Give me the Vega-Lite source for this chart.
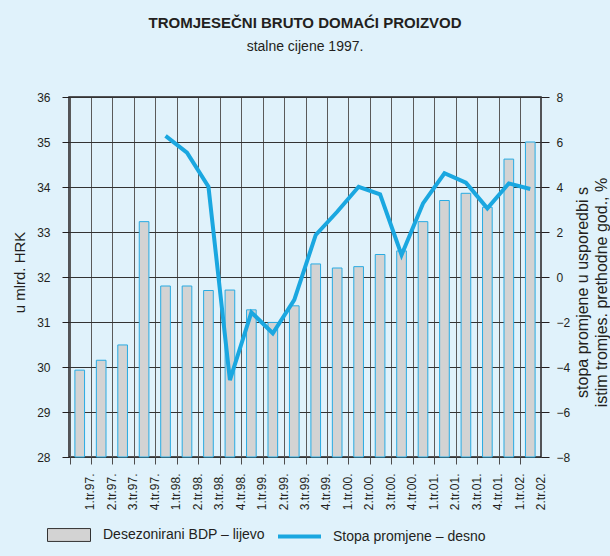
{
  "$schema": "https://vega.github.io/schema/vega-lite/v6.json",
  "width": 472,
  "height": 360,
  "autosize": {"type": "none"},
  "padding": {"left": 69, "top": 97, "right": 69, "bottom": 99},
  "background": "#e0f2fb",
  "title": {
    "text": "TROMJESEČNI BRUTO DOMAĆI PROIZVOD",
    "subtitle": "stalne cijene 1997.",
    "font": "Liberation Sans, Arial",
    "fontSize": 15,
    "fontWeight": "bold",
    "color": "#231f20",
    "subtitleFont": "Liberation Sans, Arial",
    "subtitleFontSize": 14,
    "subtitleColor": "#231f20",
    "subtitlePadding": 9,
    "offset": 37,
    "anchor": "middle"
  },
  "config": {
    "view": {"stroke": "#231f20", "strokeWidth": 1.5, "fill": "#e0f2fb"},
    "font": "Liberation Sans, Arial",
    "axis": {"labelColor": "#231f20", "titleColor": "#231f20", "labelFont": "Liberation Sans", "titleFont": "Liberation Sans", "titleFontWeight": "normal"}
  },
  "data": {
    "values": [
      {"q": "1.tr.97.", "bdp": 29.93, "stopa": null},
      {"q": "2.tr.97.", "bdp": 30.15, "stopa": null},
      {"q": "3.tr.97.", "bdp": 30.49, "stopa": null},
      {"q": "4.tr.97.", "bdp": 33.23, "stopa": null},
      {"q": "1.tr.98.", "bdp": 31.8, "stopa": 6.27},
      {"q": "2.tr.98.", "bdp": 31.8, "stopa": 5.53},
      {"q": "3.tr.98.", "bdp": 31.7, "stopa": 4.01},
      {"q": "4.tr.98.", "bdp": 31.71, "stopa": -4.58},
      {"q": "1.tr.99.", "bdp": 31.27, "stopa": -1.57},
      {"q": "2.tr.99.", "bdp": 30.99, "stopa": -2.5},
      {"q": "3.tr.99.", "bdp": 31.36, "stopa": -1.02},
      {"q": "4.tr.99.", "bdp": 32.29, "stopa": 1.87},
      {"q": "1.tr.00.", "bdp": 32.2, "stopa": 2.9},
      {"q": "2.tr.00.", "bdp": 32.23, "stopa": 4.01},
      {"q": "3.tr.00.", "bdp": 32.5, "stopa": 3.67},
      {"q": "4.tr.00.", "bdp": 32.58, "stopa": 0.98},
      {"q": "1.tr.01.", "bdp": 33.23, "stopa": 3.27},
      {"q": "2.tr.01.", "bdp": 33.7, "stopa": 4.61},
      {"q": "3.tr.01.", "bdp": 33.86, "stopa": 4.19},
      {"q": "4.tr.01.", "bdp": 33.55, "stopa": 3.05},
      {"q": "1.tr.02.", "bdp": 34.62, "stopa": 4.16},
      {"q": "2.tr.02.", "bdp": 35.0, "stopa": 3.91}
    ]
  },
  "layer": [
    {
      "mark": {"type": "bar", "stroke": "#29abe2", "strokeWidth": 1, "width": {"band": 0.5}},
      "encoding": {
        "x": {
          "field": "q", "type": "ordinal", "sort": null,
          "axis": {"title": null, "labelAngle": -90, "labelFontSize": 12, "bandPosition": 0, "labelOffset": 10.7,
                   "ticks": true, "tickSize": 7, "tickColor": "#4d4d4d", "labelPadding": 9, "domain": false,
                   "grid": true, "gridColor": "#5a5a5a", "gridWidth": 1, "gridOpacity": 1}
        },
        "y": {
          "field": "bdp", "type": "quantitative",
          "scale": {"domain": [28, 36], "zero": false, "nice": false},
          "axis": {
            "orient": "left", "title": "u mlrd. HRK", "titleFontSize": 15, "values": [28, 29, 30, 31, 32, 33, 34, 35, 36],
            "grid": true, "gridColor": "#333333", "gridWidth": 1, "gridOpacity": 1,
            "titleX": -50, "titleY": 175, "titleAlign": "center", "titleBaseline": "middle", "titleAngle": 270,
            "tickSize": 7, "tickColor": "#231f20", "domain": false, "labelFontSize": 12, "labelPadding": 12
          }
        },
        "y2": {"datum": 28},
        "fill": {
          "datum": "Desezonirani BDP – lijevo",
          "scale": {"range": ["#d3d3d3"]},
          "legend": {
            "title": null, "orient": "none", "legendX": -22, "legendY": 416,
            "symbolType": "M-1,-0.3H1V0.3H-1Z", "symbolSize": 1849, "symbolStrokeColor": "#333333", "symbolStrokeWidth": 1,
            "labelFontSize": 14, "labelColor": "#231f20", "labelOffset": 12, "labelLimit": 400
          }
        }
      }
    },
    {
      "transform": [{"filter": "datum.stopa != null"}],
      "mark": {"type": "line", "strokeWidth": 4, "strokeJoin": "miter"},
      "encoding": {
        "x": {
          "field": "q", "type": "ordinal", "sort": null,
          "axis": {"title": null, "labelAngle": -90, "labelFontSize": 12, "bandPosition": 0, "labelOffset": 10.7,
                   "ticks": true, "tickSize": 7, "tickColor": "#4d4d4d", "labelPadding": 9, "domain": false,
                   "grid": true, "gridColor": "#5a5a5a", "gridWidth": 1, "gridOpacity": 1}
        },
        "y": {
          "field": "stopa", "type": "quantitative",
          "scale": {"domain": [-8, 8], "nice": false},
          "axis": {
            "orient": "right", "title": ["stopa promjene u usporedbi s", "istim tromjes. prethodne god., %"],
            "titleFontSize": 16, "titleLineHeight": 19, "titleAngle": 270, "titleX": 41, "titleY": 195,
            "titleAlign": "center", "titleBaseline": "middle",
            "values": [-8, -6, -4, -2, 0, 2, 4, 6, 8], "grid": false,
            "tickSize": 8, "tickColor": "#231f20", "domain": false, "labelFontSize": 12, "labelPadding": 7
          }
        },
        "stroke": {
          "datum": "Stopa promjene – desno",
          "scale": {"range": ["#1aa7e0"]},
          "legend": {
            "title": null, "orient": "none", "legendX": 207, "legendY": 416,
            "symbolType": "stroke", "symbolSize": 1849, "symbolStrokeWidth": 4,
            "labelFontSize": 14, "labelColor": "#231f20", "labelOffset": 10, "labelLimit": 400
          }
        }
      }
    }
  ],
  "resolve": {"scale": {"y": "independent"}}
}
